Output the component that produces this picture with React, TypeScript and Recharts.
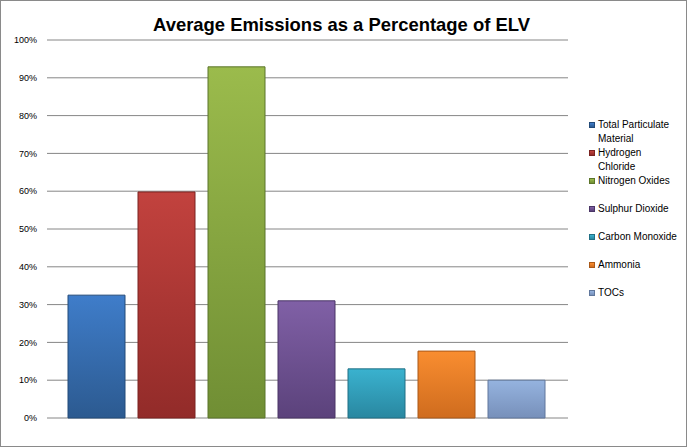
import { BarChart, Bar, XAxis, YAxis, CartesianGrid } from 'recharts';

const pollutants = [
  'Total Particulate Material',
  'Hydrogen Chloride',
  'Nitrogen Oxides',
  'Sulphur Dioxide',
  'Carbon Monoxide',
  'Ammonia',
  'TOCs',
];
const emissions = [0.325, 0.598, 0.929, 0.31, 0.13, 0.177, 0.1];
const topColors = ['#3F7DCA', '#C2423E', '#9BBB4C', '#8060A6', '#3AB2CF', '#F98D30', '#95B3DF'];
const bottomColors = ['#2C5A90', '#922B29', '#708E34', '#5B427B', '#2987A0', '#CF6C1E', '#7790BA'];
const edgeColors = ['#234A78', '#7A2220', '#5B752A', '#4A3566', '#206F84', '#A95818', '#60779C'];
const yTicks = [0, 0.1, 0.2, 0.3, 0.4, 0.5, 0.6, 0.7, 0.8, 0.9, 1];

const row: Record<string, number | string> = { group: 'ELV' };
pollutants.forEach((p, i) => { row[p] = emissions[i]; });
const chartData = [row];

const pct = (v: number) => `${Math.round(v * 100)}%`;
const font = '"Liberation Sans", Arial, sans-serif';

export default function App() {
  return (
    <div style={{ position: 'absolute', left: 0, top: 0, width: 687, height: 448, background: '#fff', fontFamily: font }}>
      <div style={{
        position: 'absolute', left: 0, top: 0, width: 687, height: 447,
        boxSizing: 'border-box', border: '1px solid #8A8A8A',
      }} />
      <svg width={687} height={40} style={{ position: 'absolute', left: 0, top: 0 }}>
        <text x={153} y={31} fontFamily={font} fontWeight="bold" fontSize={18.5} fill="#000"
          textLength={377} lengthAdjust="spacingAndGlyphs">
          Average Emissions as a Percentage of ELV
        </text>
      </svg>
      <div style={{ position: 'absolute', left: 0, top: 0 }}>
        <BarChart
          width={687}
          height={448}
          data={chartData}
          margin={{ top: 40, right: 119, left: 7, bottom: 30 }}
          barCategoryGap={21}
          barGap={13}
        >
          <defs>
            {pollutants.map((p, i) => (
              <linearGradient key={p} id={`grad${i}`} x1="0" y1="0" x2="0" y2="1">
                <stop offset="0%" stopColor={topColors[i]} />
                <stop offset="100%" stopColor={bottomColors[i]} />
              </linearGradient>
            ))}
          </defs>
          <CartesianGrid vertical={false} stroke="#868686" />
          <XAxis dataKey="group" hide />
          <YAxis
            width={40}
            domain={[0, 1]}
            ticks={yTicks}
            tickFormatter={pct}
            axisLine={false}
            tickLine={false}
            tickMargin={4}
            tick={{ fontSize: 9, fill: '#000', fontFamily: font }}
          />
          {pollutants.map((p, i) => (
            <Bar
              key={p}
              dataKey={p}
              fill={`url(#grad${i})`}
              stroke={edgeColors[i]}
              strokeWidth={1}
              isAnimationActive={false}
            />
          ))}
        </BarChart>
      </div>
      <div style={{ position: 'absolute', left: 589, top: 118, width: 96 }}>
        {pollutants.map((p, i) => (
          <div key={p} style={{ display: 'flex', alignItems: 'flex-start', height: 28 }}>
            <span style={{
              width: 6, height: 6, marginTop: 4, marginRight: 3, flexShrink: 0,
              background: `linear-gradient(${topColors[i]}, ${bottomColors[i]})`,
              border: `1px solid ${edgeColors[i]}`, boxSizing: 'border-box',
            }} />
            <span style={{ fontSize: 10, lineHeight: '14px', color: '#000', width: 81 }}>{p}</span>
          </div>
        ))}
      </div>
    </div>
  );
}
